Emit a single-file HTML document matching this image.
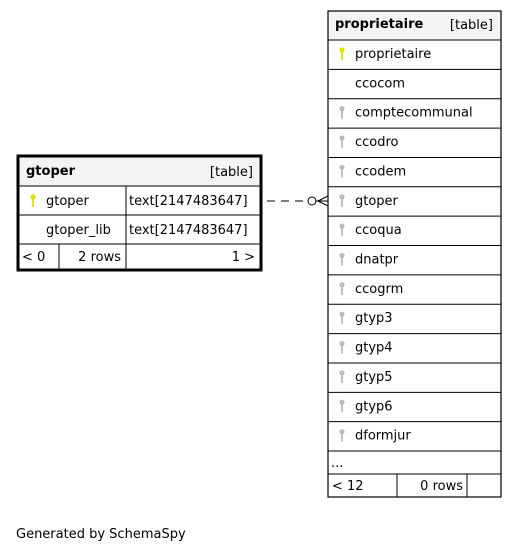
<!DOCTYPE html>
<html><head><meta charset="utf-8"><style>
body{margin:0;background:#fff;width:517px;height:553px;overflow:hidden}
svg text{font-family:"DejaVu Sans","Liberation Sans",sans-serif;font-size:13px;fill:#000}
</style></head><body>
<svg id="s" width="517" height="553" viewBox="0 0 517 553" xmlns="http://www.w3.org/2000/svg">
<defs>
<g id="key"><circle cx="0" cy="-3" r="2.6"/><rect x="-0.9" y="-1" width="1.8" height="8"/></g>
</defs>
<!-- gtoper table -->
<g>
<rect x="18" y="156" width="243" height="30" fill="#f4f4f4"/>
<text x="26" y="175" font-weight="bold">gtoper</text>
<text x="253" y="176" text-anchor="end">[table]</text>
<line x1="18" y1="186" x2="261" y2="186" stroke="#000"/>
<line x1="18" y1="215" x2="261" y2="215" stroke="#000"/>
<line x1="18" y1="244" x2="261" y2="244" stroke="#000"/>
<line x1="126" y1="186" x2="126" y2="270" stroke="#000"/>
<line x1="59" y1="244" x2="59" y2="270" stroke="#000"/>
<use href="#key" x="33" y="200" fill="#e0e000"/>
<text x="46" y="205">gtoper</text>
<text x="129" y="205">text[2147483647]</text>
<text x="46" y="234">gtoper_lib</text>
<text x="129" y="234">text[2147483647]</text>
<text x="22" y="261">&lt; 0</text>
<text x="121" y="261" text-anchor="end">2 rows</text>
<text x="255" y="261" text-anchor="end">1 &gt;</text>
<rect x="18" y="156" width="243" height="114" fill="none" stroke="#000" stroke-width="3"/>
</g>
<!-- relationship -->
<g stroke="#000" fill="none">
<line x1="267" y1="201" x2="307" y2="201" stroke-dasharray="8,6"/>
<circle cx="312" cy="201" r="4" fill="#fff"/>
<line x1="316" y1="201" x2="328" y2="201"/>
<line x1="318" y1="201" x2="328" y2="196"/>
<line x1="318" y1="201" x2="328" y2="206"/>
</g>
<!-- proprietaire table -->
<g id="p">
<rect x="328" y="11" width="173" height="29" fill="#f4f4f4"/>
<text x="335" y="28" font-weight="bold">proprietaire</text>
<text x="493" y="29" text-anchor="end">[table]</text>
</g>
<text x="16" y="538">Generated by SchemaSpy</text>
</svg>
<script>
const NS="http://www.w3.org/2000/svg";
const cols=["proprietaire","ccocom","comptecommunal","ccodro","ccodem","gtoper","ccoqua","dnatpr","ccogrm","gtyp3","gtyp4","gtyp5","gtyp6","dformjur"];
const keyType=["pk","none","fk","fk","fk","fk","fk","fk","fk","fk","fk","fk","fk","fk"];
const g=document.getElementById('p');
function mk(t,a){const e=document.createElementNS(NS,t);for(const k in a)e.setAttribute(k,a[k]);return e;}
const top0=40,step=29.36;
cols.forEach((c,i)=>{
  const y=top0+i*step;
  const ln=mk('line',{x1:328,y1:y,x2:501,y2:y,stroke:'#000'});g.appendChild(ln);
  if(keyType[i]!=='none'){
    const u=mk('use',{href:'#key',x:342,y:y+13,fill:keyType[i]==='pk'?'#e0e000':'#bbb'});
    
    
    g.appendChild(u);
  }
  const t=mk('text',{x:355,y:y+18});t.textContent=c;
  
  
  g.appendChild(t);
});
const yd=top0+cols.length*step;
g.appendChild(mk('line',{x1:328,y1:yd,x2:501,y2:yd,stroke:'#000'}));
const dots=mk('text',{x:331,y:yd+16});dots.textContent='...';


g.appendChild(dots);
const yf=474;
g.appendChild(mk('line',{x1:328,y1:yf,x2:501,y2:yf,stroke:'#000'}));
g.appendChild(mk('line',{x1:397,y1:yf,x2:397,y2:497,stroke:'#000'}));
g.appendChild(mk('line',{x1:467,y1:yf,x2:467,y2:497,stroke:'#000'}));
const f1=mk('text',{x:332,y:yf+16});f1.textContent='< 12';


g.appendChild(f1);
const f2=mk('text',{x:463,y:yf+16,'text-anchor':'end'});f2.textContent='0 rows';


g.appendChild(f2);
g.appendChild(mk('rect',{x:328,y:11,width:173,height:486,fill:'none',stroke:'#000','stroke-width':1.2}));
</script>
</body></html>
